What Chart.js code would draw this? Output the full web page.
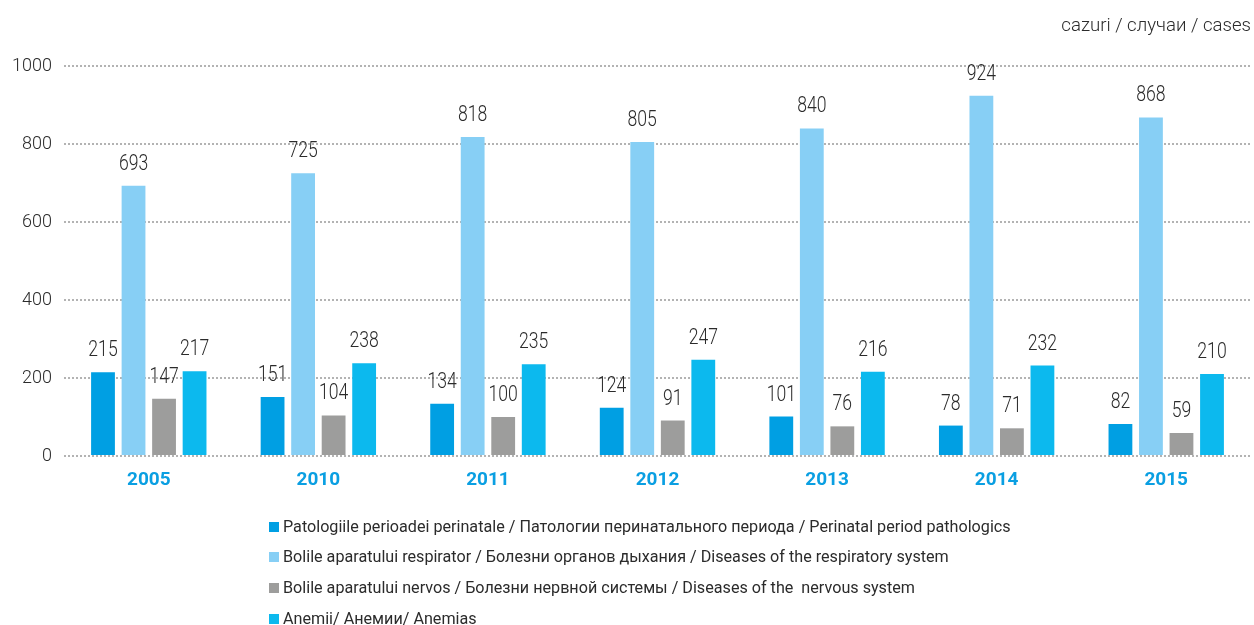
<!DOCTYPE html>
<html>
<head>
<meta charset="utf-8">
<script src="https://cdn.jsdelivr.net/npm/chart.js@4/dist/chart.umd.min.js"></script>
<style>
  html, body { margin: 0; padding: 0; background: #ffffff; }
  #wrap { width: 1254px; height: 625px; position: relative; }
</style>
</head>
<body>
<div id="wrap"><canvas id="c" width="1254" height="625"></canvas></div>
<script>
const years = ['2005', '2010', '2011', '2012', '2013', '2014', '2015'];
const perinatal = [215, 151, 134, 124, 101, 78, 82];
const respiratory = [693, 725, 818, 805, 840, 924, 868];
const nervous = [147, 104, 100, 91, 76, 71, 59];
const anemias = [217, 238, 235, 247, 216, 232, 210];
const seriesLabels = [
  'Patologiile perioadei perinatale / Патологии перинатального периода / Perinatal period pathologics',
  'Bolile aparatului respirator / Болезни органов дыхания / Diseases of the respiratory system',
  'Bolile aparatului nervos / Болезни нервной системы / Diseases of the  nervous system',
  'Anemii/ Анемии/ Anemias'
];
const seriesColors = ['#009fe3', '#87cff5', '#9d9d9c', '#0cb9ee'];
const unitLabel = 'cazuri / случаи / cases';
const yTicks = [0, 200, 400, 600, 800, 1000];

const FONT = 'Roboto, "Noto Sans", sans-serif';

const labelPlugin = {
  id: 'labels',
  afterDatasetsDraw(chart) {
    const ctx = chart.ctx;
    ctx.save();
    ctx.fillStyle = '#2b2b2b';
    ctx.textAlign = 'center';
    ctx.textBaseline = 'alphabetic';
    ctx.font = '300 22px ' + FONT;
    chart.data.datasets.forEach((ds, i) => {
      const meta = chart.getDatasetMeta(i);
      meta.data.forEach((bar, j) => {
        ctx.save();
        ctx.translate(bar.x, bar.y - 16);
        ctx.scale(0.8, 1);
        ctx.fillText(String(ds.data[j]), 0, 0);
        ctx.restore();
      });
    });
    // unit label
    ctx.save();
    ctx.font = '300 19px ' + FONT;
    ctx.textAlign = 'right';
    ctx.translate(1251, 31);
    ctx.scale(0.98, 1);
    ctx.fillText(unitLabel, 0, 0);
    ctx.restore();
    // legend
    ctx.textAlign = 'left';
    ctx.textBaseline = 'middle';
    const rows = [528, 558, 589, 620];
    chart.data.datasets.forEach((ds, i) => {
      const y = rows[i];
      ctx.fillStyle = ds.backgroundColor;
      ctx.fillRect(269, y - 6, 10, 10);
      ctx.fillStyle = '#2b2b2b';
      ctx.save();
      ctx.font = '400 17px ' + FONT;
      ctx.translate(283, y);
      ctx.scale(0.95, 1);
      ctx.fillText(ds.label, 0, 0);
      ctx.restore();
    });
    ctx.restore();
  }
};

new Chart(document.getElementById('c'), {
  type: 'bar',
  data: {
    labels: years,
    datasets: [perinatal, respiratory, nervous, anemias].map((d, i) => ({
      label: seriesLabels[i],
      data: d,
      backgroundColor: seriesColors[i],
      borderWidth: 0,
      barPercentage: 0.78,
      categoryPercentage: 0.72
    }))
  },
  options: {
    responsive: false,
    animation: false,
    layout: { padding: { top: 66, right: 3, bottom: 129, left: 0 } },
    plugins: { legend: { display: false }, tooltip: { enabled: false } },
    scales: {
      x: {
        grid: { display: false },
        border: { display: false },
        ticks: { color: '#0a9fe2', font: { family: FONT, size: 19, weight: 'bold' }, padding: 5 },
        afterFit(scale) { scale.height = 40; }
      },
      y: {
        min: 0, max: 1000,
        afterBuildTicks(scale) { scale.ticks = yTicks.map(v => ({ value: v })); },
        grid: { color: '#b3b3b3', lineWidth: 2, drawTicks: false },
        border: { display: false, dash: [2, 2] },
        ticks: {
          color: '#2b2b2b', font: { family: FONT, size: 18, weight: '300' }, padding: 12,
          callback: (v) => String(v)
        },
        afterFit(scale) { scale.width = 64; }
      }
    }
  },
  plugins: [labelPlugin]
});
</script>
</body>
</html>
